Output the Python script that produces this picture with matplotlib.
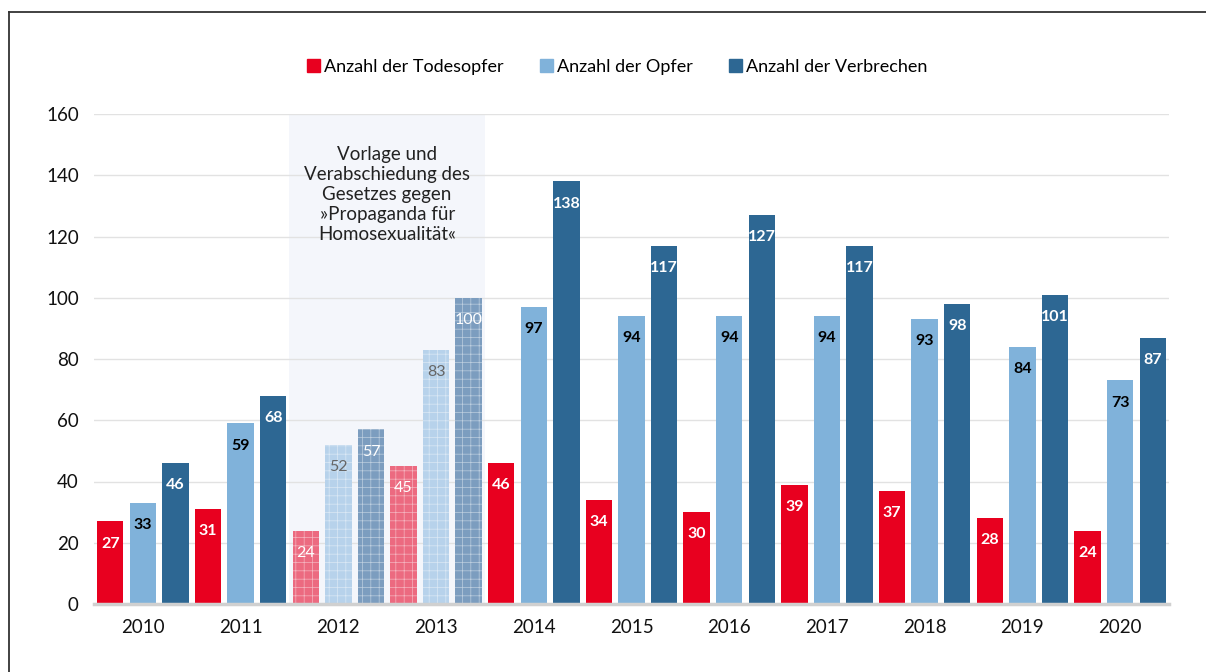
import matplotlib
matplotlib.use("Agg")
import matplotlib.pyplot as plt
from matplotlib.lines import Line2D
from matplotlib.patches import Patch
import numpy as np

plt.rcParams['font.family'] = ['Lato', 'DejaVu Sans']
plt.rcParams['hatch.linewidth'] = 0.5

years = ['2010', '2011', '2012', '2013', '2014', '2015', '2016', '2017', '2018', '2019', '2020']
todesopfer = [27, 31, 24, 45, 46, 34, 30, 39, 37, 28, 24]
opfer = [33, 59, 52, 83, 97, 94, 94, 94, 93, 84, 73]
verbrechen = [46, 68, 57, 100, 138, 117, 127, 117, 98, 101, 87]
series_names = ['Anzahl der Todesopfer', 'Anzahl der Opfer', 'Anzahl der Verbrechen']
law_years = ['2012', '2013']
law_text = 'Vorlage und\nVerabschiedung des\nGesetzes gegen\n»Propaganda für\nHomosexualität«'

colors = ['#e8001f', '#80b2da', '#2d6793']
faded = ['#ec6a80', '#b7d2eb', '#7c9dbf']
label_col = ['white', 'black', 'white']
faded_label_col = ['white', '#666666', 'white']

fig = plt.figure(figsize=(12.06, 6.72), dpi=100)
ax = fig.add_axes([94 / 1206, 1 - 604 / 672, (1169 - 94) / 1206, (604 - 114) / 672])

x = np.arange(len(years))
i0 = years.index(law_years[0])
i1 = years.index(law_years[-1])
ax.axvspan(i0 - 0.5, i1 + 0.5, color='#f4f6fb', zorder=0, lw=0)
ax.text((i0 + i1) / 2, 149.5, law_text, ha='center', va='top', fontsize=13.5,
        color='#222222', linespacing=1.22, zorder=3)

width = 0.27
offsets = [-1 / 3, 0, 1 / 3]
for k, vals in enumerate([todesopfer, opfer, verbrechen]):
    for i, v in enumerate(vals):
        law = years[i] in law_years
        xi = x[i] + offsets[k]
        if law:
            ax.bar(xi, v, width, color=faded[k], edgecolor=(1, 1, 1, 0.5), lw=0,
                   hatch='++', zorder=2)
        else:
            ax.bar(xi, v, width, color=colors[k], lw=0, zorder=2)
        ax.annotate(str(v), (xi, v), xytext=(0, -16), textcoords='offset points',
                    ha='center', va='center', fontsize=11.5,
                    fontweight='normal' if law else 'bold',
                    color=faded_label_col[k] if law else label_col[k], zorder=4)

ax.set_xlim(-0.5, len(years) - 0.5)
ax.set_ylim(0, 160)
ax.set_yticks(range(0, 161, 20))
ax.set_xticks(x)
ax.set_xticklabels(years)
ax.tick_params(axis='both', length=0, labelsize=13.5, colors='#111111')
ax.tick_params(axis='x', pad=11)
ax.tick_params(axis='y', pad=11)
ax.grid(axis='y', color='#e2e2e2', lw=1)
ax.set_axisbelow(True)
for s in ['top', 'right', 'left']:
    ax.spines[s].set_visible(False)
ax.spines['bottom'].set_color('#d0d0d0')
ax.spines['bottom'].set_linewidth(2.5)

handles = [Patch(color=c) for c in colors]
fig.legend(handles, series_names, loc='center', bbox_to_anchor=(0.512, 1 - 67 / 672),
           ncol=3, frameon=False, fontsize=13, handlelength=0.7, handleheight=0.7,
           handletextpad=0.25, columnspacing=2.0)

# outer frame of the graphic
fig.add_artist(Line2D([9 / 1206, 9 / 1206], [0, 1 - 12 / 672], color='#333333', lw=1.3))
fig.add_artist(Line2D([9 / 1206, 1], [1 - 12 / 672, 1 - 12 / 672], color='#333333', lw=1.3))

fig.savefig('out.png', dpi=100)
